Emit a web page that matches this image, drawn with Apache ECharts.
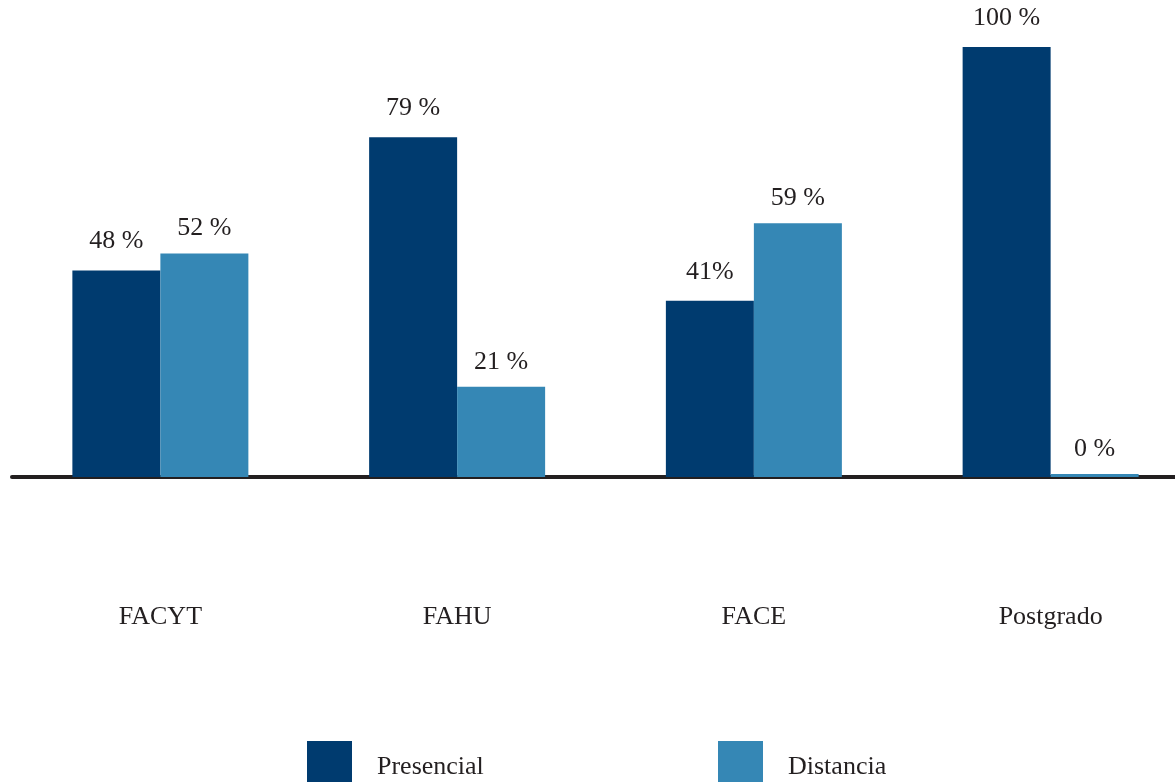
<!DOCTYPE html>
<html>
<head>
<meta charset="utf-8">
<script src="https://cdn.jsdelivr.net/npm/echarts@6/dist/echarts.min.js"></script>
<style>
  html, body { margin: 0; padding: 0; background: #fff; overflow: hidden; }
  #chart_box { width: 1200px; height: 782px; }
</style>
</head>
<body>
<div id="chart_box"></div>
<script>
// categorias y valores (%)
const categories = ['FACYT', 'FAHU', 'FACE', 'Postgrado']
const presencialValues = [48, 79, 41, 100]
const distanciaValues = [52, 21, 59, 0]
// etiquetas tal como aparecen en la figura
const presencialLabels = ['48 %', '79 %', '41%', '100 %']
const distanciaLabels = ['52 %', '21 %', '59 %', '0 %']

const fontFamily = "'Liberation Serif', 'Times New Roman', serif"
const textColor = '#231F20'

// el contenedor es algo mas ancho que la ventana para que el eje llegue al borde
const chart = echarts.init(document.getElementById('chart_box'))
const options = {
  animation: false,
  textStyle: { fontFamily: fontFamily, color: textColor },
  grid: { left: 12, width: 1187, top: 47, bottom: 305 },
  legend: [
    {
      data: ['Presencial'],
      left: 307,
      top: 741,
      padding: 0,
      itemWidth: 45,
      itemHeight: 52,
      icon: 'rect',
      textStyle: { fontFamily: fontFamily, fontSize: 26, color: textColor, padding: [2, 0, 0, 20] }
    },
    {
      data: ['Distancia'],
      left: 718,
      top: 741,
      padding: 0,
      itemWidth: 45,
      itemHeight: 52,
      icon: 'rect',
      textStyle: { fontFamily: fontFamily, fontSize: 26, color: textColor, padding: [2, 0, 0, 20] }
    }
  ],
  xAxis: {
    type: 'category',
    data: categories,
    axisLine: { lineStyle: { color: textColor, width: 4 } },
    axisTick: { show: false },
    axisLabel: { margin: 127, fontSize: 26, color: textColor, fontFamily: fontFamily }
  },
  yAxis: {
    type: 'value',
    min: 0,
    max: 100,
    show: false,
    splitLine: { show: false }
  },
  series: [
    {
      name: 'Presencial',
      type: 'bar',
      data: presencialValues,
      barWidth: 88,
      barGap: '0%',
      itemStyle: { color: '#003B6F' },
      label: {
        show: true,
        position: 'top',
        distance: 16,
        fontSize: 26,
        color: textColor,
        fontFamily: fontFamily,
        formatter: p => presencialLabels[p.dataIndex]
      }
    },
    {
      name: 'Distancia',
      type: 'bar',
      data: distanciaValues,
      barWidth: 88,
      barGap: '0%',
      barMinHeight: 3,
      itemStyle: { color: '#3587B5' },
      label: {
        show: true,
        position: 'top',
        distance: 12,
        fontSize: 26,
        color: textColor,
        fontFamily: fontFamily,
        formatter: p => distanciaLabels[p.dataIndex]
      }
    }
  ]
}
chart.setOption(options)
</script>
</body>
</html>
